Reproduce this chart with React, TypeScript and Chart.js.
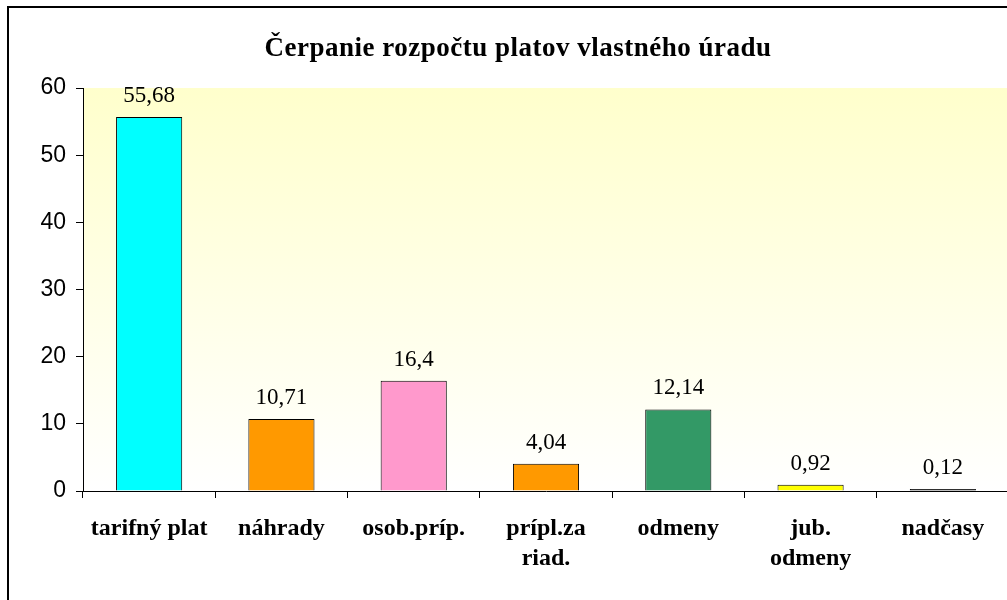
import React, { useEffect, useRef } from 'react';
import { Chart, registerables } from 'chart.js';

Chart.register(...registerables);

const TITLE = 'Čerpanie rozpočtu platov vlastného úradu';
const categories: string[][] = [
  ['tarifný plat'],
  ['náhrady'],
  ['osob.príp.'],
  ['prípl.za', 'riad.'],
  ['odmeny'],
  ['jub.', 'odmeny'],
  ['nadčasy'],
];
const values = [55.68, 10.71, 16.4, 4.04, 12.14, 0.92, 0.12];
const barColors = ['#00FFFF', '#FF9900', '#FF99CC', '#FF9900', '#339966', '#FFFF00', '#000000'];
const yMin = 0;
const yMax = 60;
const yStep = 10;

const CANVAS_W = 1036;
const CANVAS_H = 600;

const fmt = (v: number) => String(v).replace('.', ',');

const framePlugin = {
  id: 'frameBg',
  beforeDraw(chart: any) {
    const ctx = chart.ctx;
    const { left, top, right, bottom } = chart.chartArea;
    ctx.save();
    ctx.fillStyle = '#FFFFFF';
    ctx.fillRect(0, 0, chart.width, chart.height);
    const g = ctx.createLinearGradient(0, top, 0, bottom);
    g.addColorStop(0, '#FFFFCC');
    g.addColorStop(1, '#FFFFFF');
    ctx.fillStyle = g;
    ctx.fillRect(left, top, right - left, bottom - top);
    ctx.strokeStyle = '#000000';
    ctx.lineWidth = 2;
    ctx.strokeRect(8, 7, chart.width - 16, chart.height + 20);
    ctx.restore();
  },
  afterDatasetsDraw(chart: any) {
    const ctx = chart.ctx;
    const meta = chart.getDatasetMeta(0);
    ctx.save();
    ctx.font = '23px "Liberation Serif", "Times New Roman", serif';
    ctx.fillStyle = '#000000';
    ctx.textAlign = 'center';
    ctx.textBaseline = 'alphabetic';
    meta.data.forEach((bar: any, i: number) => {
      ctx.fillText(fmt(values[i]), bar.x, bar.y - 15);
    });
    ctx.restore();
  },
  afterDraw(chart: any) {
    const ctx = chart.ctx;
    ctx.save();
    ctx.letterSpacing = '0.5px';
    ctx.font = 'bold 27px "Liberation Serif", "Times New Roman", serif';
    ctx.fillStyle = '#000000';
    ctx.textAlign = 'center';
    ctx.textBaseline = 'alphabetic';
    ctx.fillText(TITLE, chart.width / 2, 56);
    ctx.restore();
  },
};

export default function App() {
  const ref = useRef<HTMLCanvasElement | null>(null);

  useEffect(() => {
    if (!ref.current) return;
    const chart = new Chart(ref.current, {
      type: 'bar',
      data: {
        labels: categories,
        datasets: [
          {
            data: values,
            backgroundColor: barColors,
            borderColor: '#000000',
            borderWidth: 1,
            barPercentage: 0.5,
            categoryPercentage: 1,
            minBarLength: 2,
          },
        ],
      },
      options: {
        responsive: false,
        animation: false,
        devicePixelRatio: 1,
        layout: { padding: { left: 10, top: 88, right: 27, bottom: 0 } },
        plugins: {
          legend: { display: false },
          title: { display: false },
          tooltip: { enabled: false },
        },
        scales: {
          x: {
            grid: {
              display: true,
              drawOnChartArea: false,
              drawTicks: true,
              tickLength: 7,
              color: '#000000',
              offset: true,
            },
            border: { display: true, color: '#000000', width: 1 },
            ticks: {
              color: '#000000',
              padding: 16,
              maxRotation: 0,
              autoSkip: false,
              font: { family: '"Liberation Serif", "Times New Roman", serif', size: 24, weight: 'bold', lineHeight: 30 / 24 },
            },
            afterFit: (s: any) => {
              s.height = 109;
            },
          },
          y: {
            min: yMin,
            max: yMax,
            grid: {
              display: true,
              drawOnChartArea: false,
              drawTicks: true,
              tickLength: 7,
              color: '#000000',
            },
            border: { display: true, color: '#000000', width: 1 },
            ticks: {
              stepSize: yStep,
              color: '#000000',
              padding: 10,
              font: { family: '"Liberation Sans", Arial, sans-serif', size: 23, weight: 'normal' },
            },
            afterFit: (s: any) => {
              s.width = 73;
            },
          },
        },
      },
      plugins: [framePlugin],
    });
    return () => chart.destroy();
  }, []);

  return (
    <div
      style={{
        position: 'fixed',
        left: 0,
        top: 0,
        width: 1007,
        height: 600,
        overflow: 'hidden',
        background: '#FFFFFF',
      }}
    >
      <canvas
        ref={ref}
        width={CANVAS_W}
        height={CANVAS_H}
        style={{ display: 'block', width: CANVAS_W, height: CANVAS_H }}
      />
    </div>
  );
}
